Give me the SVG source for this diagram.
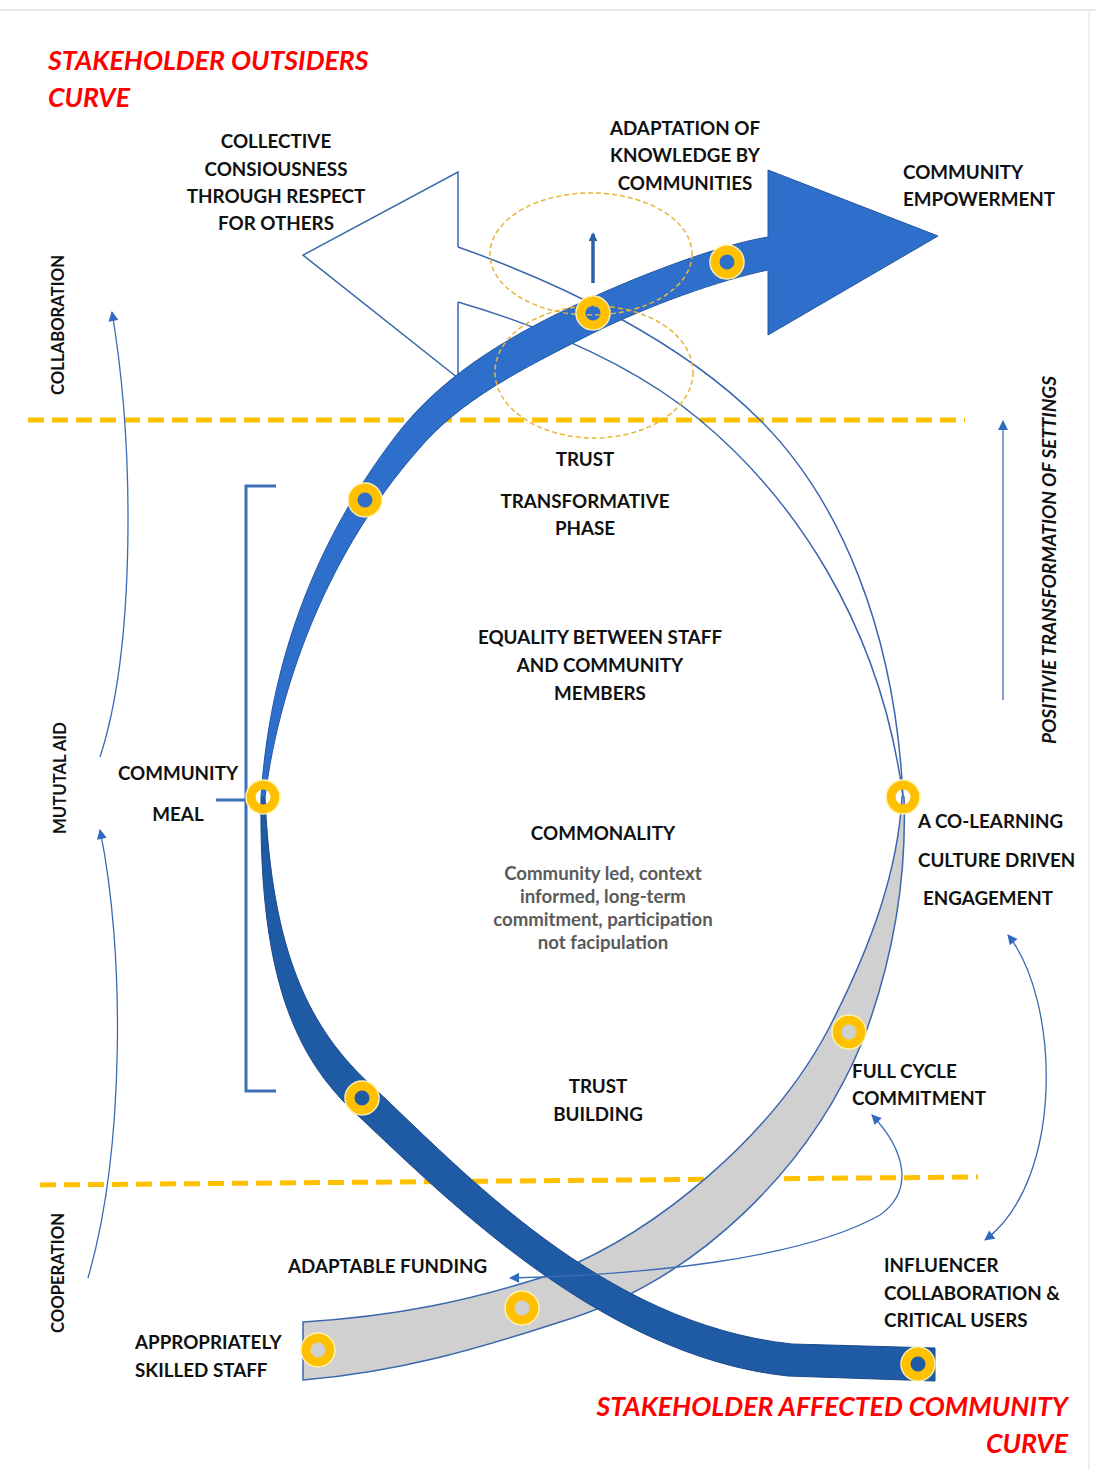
<svg xmlns="http://www.w3.org/2000/svg" width="1096" height="1470" viewBox="0 0 1096 1470">
<defs>
<marker id="ah" viewBox="0 0 10 10" refX="9" refY="5" markerWidth="11" markerHeight="10" markerUnits="userSpaceOnUse" orient="auto-start-reverse">
<path d="M0,0 L10,5 L0,10 Z" fill="#2f6bc0"/>
</marker>
<marker id="ahs" viewBox="0 0 10 10" refX="8" refY="5" markerWidth="9" markerHeight="9" markerUnits="userSpaceOnUse" orient="auto">
<path d="M0,0 L10,5 L0,10 Z" fill="#2a5ea8"/>
</marker>
</defs>
<style>
.t{font-family:Lato,"Liberation Sans",sans-serif;font-weight:700;font-size:18.8px;fill:#111}
.c{text-anchor:middle}
.red{font-family:Lato,"Liberation Sans",sans-serif;font-weight:700;font-style:italic;font-size:26.7px;fill:#ff0000}
.g{font-family:Lato,"Liberation Sans",sans-serif;font-weight:700;font-size:18.6px;fill:#5a5a5a;text-anchor:middle}
.v{font-family:Lato,"Liberation Sans",sans-serif;font-weight:700;font-size:16.7px;fill:#111;text-anchor:middle}
.thin{fill:none;stroke:#3a67ad;stroke-width:1.5}
.conn{fill:none;stroke:#3b6cb3;stroke-width:1.3}
.dash{fill:none;stroke:#ffc000;stroke-width:5;stroke-dasharray:16 8}
.ell{fill:none;stroke:#e6b53a;stroke-width:1.5;stroke-dasharray:5 3}
.ring{fill:none;stroke:#ffc000;stroke-width:9}
.halo{fill:none;stroke:#fff1a8;stroke-width:1.5}
</style>
<rect x="0" y="0" width="1096" height="1470" fill="#ffffff"/>
<line x1="0" y1="10" x2="1096" y2="10" stroke="#e8e8e8" stroke-width="2"/>
<line x1="1089" y1="10" x2="1089" y2="1470" stroke="#f0f0f0" stroke-width="2"/>

<g id="dividers">
<line class="dash" x1="28" y1="420" x2="965" y2="420"/>
<line class="dash" x1="40" y1="1185" x2="978" y2="1177"/>
</g>

<g id="bracket">
<path d="M276,486 L246,486 L246,1091 L276,1091 M246,800 L216,800" fill="none" stroke="#3d6fb8" stroke-width="3"/>
</g>

<g id="outsider-arrow">
<path d="M458,247 L458,172 L303,255 L458,378 L458,302" fill="#ffffff" stroke="#3a67ad" stroke-width="1.5" stroke-linejoin="miter"/>
<path class="thin" d="M458,247 C560,283 680,340 760,420 C840,500 895,630 903,797"/>
<path class="thin" d="M458,302 C560,332 640,370 700,420 C790,495 880,620 903,797"/>
</g>

<g id="affected-curve">
<path d="M303,1322 C400,1316 470,1300 540,1278 C660,1235 775,1130 828,1030 C872,945 898,870 902,797 L904,797 C907,880 893,960 863,1040 C812,1165 700,1280 560,1322 C480,1348 400,1372 303,1380 Z" fill="#d0d0d0" stroke="#3a67ad" stroke-width="1.5"/>
</g>

<g id="lower-band">
<path d="M261,797 C259,965 290,1050 351,1109 C439,1191 598,1356 788,1376 L935,1381 L935,1348 L792,1344 C602,1324 461,1169 373,1087 C310,1030 272,955 265,797 Z" fill="#1f5aa5" stroke="#1a4a8a" stroke-width="1"/>
</g>

<g id="upper-band">
<path d="M261,797 C268,690 300,560 398,433 C447,370 520,330 593,297 C651,271 720,245 768,237 L768,170 L938,236 L768,335 L768,270 C720,280 650,305 593,333 C520,370 460,400 418,450 C330,550 280,680 265,797 Z" fill="#2e6fcb" stroke="#2356a3" stroke-width="1"/>
</g>

<g id="focus">
<ellipse class="ell" cx="591" cy="254" rx="101" ry="61"/>
<ellipse class="ell" cx="594" cy="372" rx="99" ry="66"/>
<line x1="593" y1="283" x2="593" y2="234" stroke="#2f5fa5" stroke-width="3.5" marker-end="url(#ahs)"/>
</g>

<g id="rings">
<g><circle class="ring" cx="727" cy="262" r="12"/><circle class="halo" cx="727" cy="262" r="17"/></g>
<g><circle class="ring" cx="593" cy="313" r="12"/><circle class="halo" cx="593" cy="313" r="17"/></g>
<g><circle class="ring" cx="365" cy="500" r="12"/><circle class="halo" cx="365" cy="500" r="17"/></g>
<g><circle class="ring" cx="263" cy="797" r="12"/><circle class="halo" cx="263" cy="797" r="17"/></g>
<g><circle class="ring" cx="903" cy="797" r="12"/><circle class="halo" cx="903" cy="797" r="17"/></g>
<g><circle class="ring" cx="849" cy="1032" r="12"/><circle class="halo" cx="849" cy="1032" r="17"/></g>
<g><circle class="ring" cx="362" cy="1098" r="12"/><circle class="halo" cx="362" cy="1098" r="17"/></g>
<g><circle class="ring" cx="522" cy="1308" r="12"/><circle class="halo" cx="522" cy="1308" r="17"/></g>
<g><circle class="ring" cx="318" cy="1350" r="12"/><circle class="halo" cx="318" cy="1350" r="17"/></g>
<g><circle class="ring" cx="918" cy="1364" r="12"/><circle class="halo" cx="918" cy="1364" r="17"/></g>
</g>

<g id="connectors">
<path class="conn" d="M100,757 C135,650 135,450 112,312" marker-end="url(#ah)"/>
<path class="conn" d="M88,1278 C125,1150 125,950 100,830" marker-end="url(#ah)"/>
<path class="conn" d="M1003,700 L1003,421" marker-end="url(#ah)"/>
<path class="conn" d="M1008,935 C1060,1000 1065,1180 985,1240" marker-start="url(#ah)" marker-end="url(#ah)"/>
<path class="conn" d="M872,1115 C905,1150 915,1190 880,1215 C800,1260 640,1275 510,1278" marker-start="url(#ah)" marker-end="url(#ah)"/>
</g>

<g id="titles">
<text class="red" x="48" y="70">STAKEHOLDER OUTSIDERS</text>
<text class="red" x="48" y="107">CURVE</text>
<text class="red" x="1068" y="1416" text-anchor="end">STAKEHOLDER AFFECTED COMMUNITY</text>
<text class="red" x="1068" y="1453" text-anchor="end">CURVE</text>
</g>

<g id="labels">
<g id="n-collective"><text class="t c" x="276" y="148">COLLECTIVE</text><text class="t c" x="276" y="176">CONSIOUSNESS</text><text class="t c" x="276" y="203">THROUGH RESPECT</text><text class="t c" x="276" y="230">FOR OTHERS</text></g>
<g id="n-adaptation"><text class="t c" x="685" y="135">ADAPTATION OF</text><text class="t c" x="685" y="162">KNOWLEDGE BY</text><text class="t c" x="685" y="190">COMMUNITIES</text></g>
<g id="n-empower"><text class="t" x="903" y="179">COMMUNITY</text><text class="t" x="903" y="206">EMPOWERMENT</text></g>
<g id="n-trust1"><text class="t c" x="585" y="466">TRUST</text></g>
<g id="n-transform"><text class="t c" x="585" y="508">TRANSFORMATIVE</text><text class="t c" x="585" y="535">PHASE</text></g>
<g id="n-equality"><text class="t c" x="600" y="644">EQUALITY BETWEEN STAFF</text><text class="t c" x="600" y="672">AND COMMUNITY</text><text class="t c" x="600" y="700">MEMBERS</text></g>
<g id="n-meal"><text class="t c" x="178" y="780">COMMUNITY</text><text class="t c" x="178" y="821">MEAL</text></g>
<g id="n-commonality"><text class="t c" x="603" y="840">COMMONALITY</text>
<text class="g" x="603" y="880">Community led, context</text><text class="g" x="603" y="903">informed, long-term</text><text class="g" x="603" y="926">commitment, participation</text><text class="g" x="603" y="949">not facipulation</text></g>
<g id="n-colearning"><text class="t" x="918" y="828">A CO-LEARNING</text><text class="t" x="918" y="867">CULTURE DRIVEN</text><text class="t" x="923" y="905">ENGAGEMENT</text></g>
<g id="n-trust2"><text class="t c" x="598" y="1093">TRUST</text><text class="t c" x="598" y="1121">BUILDING</text></g>
<g id="n-fullcycle"><text class="t" x="852" y="1078">FULL CYCLE</text><text class="t" x="852" y="1105">COMMITMENT</text></g>
<g id="n-funding"><text class="t" x="288" y="1273">ADAPTABLE FUNDING</text></g>
<g id="n-influencer"><text class="t" x="884" y="1272">INFLUENCER</text><text class="t" x="884" y="1300">COLLABORATION &amp;</text><text class="t" x="884" y="1327">CRITICAL USERS</text></g>
<g id="n-staff"><text class="t" x="135" y="1349">APPROPRIATELY</text><text class="t" x="135" y="1377">SKILLED STAFF</text></g>
<g id="n-axis">
<text class="v" transform="translate(64,325) rotate(-90)">COLLABORATION</text>
<text class="v" transform="translate(66,778) rotate(-90)">MUTUTAL AID</text>
<text class="v" transform="translate(64,1273) rotate(-90)">COOPERATION</text>
<text class="v" style="font-style:italic;font-size:19px" transform="translate(1056,560) rotate(-90)">POSITIVIE TRANSFORMATION OF SETTINGS</text>
</g>
</g>
</svg>
